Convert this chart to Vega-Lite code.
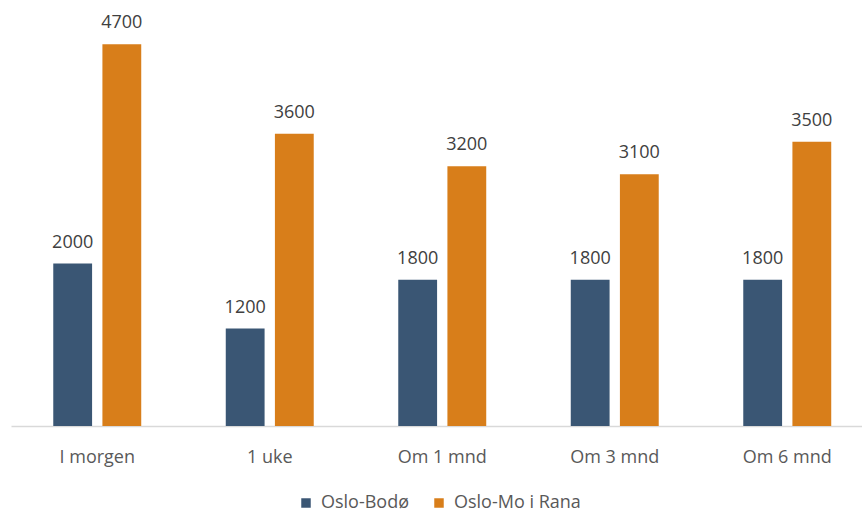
{
  "$schema": "https://vega.github.io/schema/vega-lite/v6.json",
  "width": 862.5,
  "height": 406,
  "autosize": {"type": "none"},
  "padding": {"left": 11, "top": 20, "right": 0, "bottom": 87},
  "background": "white",
  "data": {
    "values": [
      {"periode": "I morgen", "rute": "Oslo-Bodø", "pris": 2000},
      {"periode": "I morgen", "rute": "Oslo-Mo i Rana", "pris": 4700},
      {"periode": "1 uke", "rute": "Oslo-Bodø", "pris": 1200},
      {"periode": "1 uke", "rute": "Oslo-Mo i Rana", "pris": 3600},
      {"periode": "Om 1 mnd", "rute": "Oslo-Bodø", "pris": 1800},
      {"periode": "Om 1 mnd", "rute": "Oslo-Mo i Rana", "pris": 3200},
      {"periode": "Om 3 mnd", "rute": "Oslo-Bodø", "pris": 1800},
      {"periode": "Om 3 mnd", "rute": "Oslo-Mo i Rana", "pris": 3100},
      {"periode": "Om 6 mnd", "rute": "Oslo-Bodø", "pris": 1800},
      {"periode": "Om 6 mnd", "rute": "Oslo-Mo i Rana", "pris": 3500}
    ]
  },
  "encoding": {
    "x": {
      "field": "periode",
      "type": "nominal",
      "sort": ["I morgen", "1 uke", "Om 1 mnd", "Om 3 mnd", "Om 6 mnd"],
      "scale": {"paddingInner": 0.49, "paddingOuter": 0.245},
      "title": null,
      "axis": {
        "labelAngle": 0,
        "domain": true,
        "domainColor": "#D9D9D9",
        "domainWidth": 1.5,
        "ticks": false,
        "tickSize": 0,
        "grid": false,
        "labelFont": "Open Sans",
        "labelFontSize": 18,
        "labelColor": "#595959",
        "labelBaseline": "alphabetic",
        "labelPadding": 36
      }
    },
    "xOffset": {
      "field": "rute",
      "type": "nominal",
      "sort": ["Oslo-Bodø", "Oslo-Mo i Rana"],
      "scale": {"paddingInner": 0.21, "paddingOuter": 0}
    },
    "y": {
      "field": "pris",
      "type": "quantitative",
      "scale": {"domain": [0, 5000]},
      "axis": null
    }
  },
  "layer": [
    {
      "mark": {"type": "bar"},
      "encoding": {
        "color": {
          "field": "rute",
          "type": "nominal",
          "scale": {"domain": ["Oslo-Bodø", "Oslo-Mo i Rana"], "range": ["#3A5674", "#D87E1A"]},
          "legend": {
            "orient": "none",
            "legendX": 286,
            "legendY": 474,
            "direction": "horizontal",
            "title": null,
            "symbolType": "square",
            "symbolSize": 90,
            "symbolStrokeWidth": 0,
            "labelFont": "Open Sans",
            "labelFontSize": 18,
            "labelColor": "#595959",
            "labelOffset": 6,
            "columnPadding": 20
          }
        }
      }
    },
    {
      "mark": {"type": "text", "dy": -16, "baseline": "alphabetic", "fontSize": 18, "font": "Open Sans", "color": "#404040"},
      "encoding": {"text": {"field": "pris", "type": "quantitative"}}
    }
  ],
  "config": {"view": {"stroke": null}}
}
